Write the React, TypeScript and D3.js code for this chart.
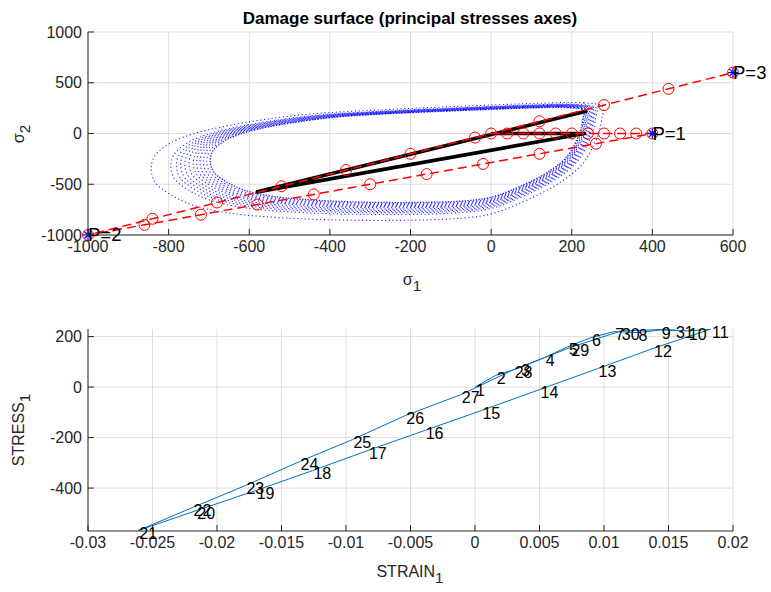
import { useEffect, useRef } from "react";
import * as d3 from "d3";

const W = 771;
const H = 592;
const FONT = "'Liberation Sans', Arial, sans-serif";
const AXIS = "#262626";
const GRID = "#dedede";

// ---- top panel: damage surface in principal stress space ----
const sigmaTicksX = [-1000, -800, -600, -400, -200, 0, 200, 400, 600];
const sigmaTicksY = [-1000, -500, 0, 500, 1000];

// innermost surface contour (sigma1, sigma2)
const surfaceInner: [number, number][] = [
  [229, 225], [190, 255], [100, 252], [0, 238], [-100, 222], [-200, 205],
  [-375, 165], [-470, 120], [-545, 70], [-610, 10], [-660, -70], [-690, -170],
  [-697, -276], [-688, -380], [-655, -480], [-610, -560], [-540, -620],
  [-400, -665], [-200, -680], [-60, -662], [-2, -630], [54, -552],
  [139, -384], [188, -227], [213, -59], [221, 20], [227, 130],
];
// growth of the nested surfaces (about surfaceAnchor)
const surfaceAnchor: [number, number] = [0, 60];
const surfaceScaleX = [1.0, 1.012, 1.024, 1.036, 1.048, 1.06, 1.075, 1.09, 1.105, 1.12, 1.14, 1.21];
const surfaceScaleY = [1.0, 1.014, 1.028, 1.042, 1.056, 1.07, 1.087, 1.104, 1.121, 1.138, 1.16, 1.238];

// prescribed load path (red)
const loadSigma1 = [
  0, 40, 80, 120, 160, 200, 240, 280, 320, 360, 400,
  260, 120, -20, -160, -300, -440, -580, -720, -860, -1000,
  -840, -680, -520, -360, -200, -40, 120, 280, 440, 600,
];
const loadSigma2 = [
  0, 0, 0, 0, 0, 0, 0, 0, 0, 0, 0,
  -100, -200, -300, -400, -500, -600, -700, -800, -900, -1000,
  -840, -680, -520, -360, -200, -40, 120, 280, 440, 600,
];
const loadLabels = [
  { idx: 10, text: "P=1" },
  { idx: 20, text: "P=2" },
  { idx: 30, text: "P=3" },
];

// computed stress path (black)
const responseSigma1 = [0, 232, -580, 238];
const responseSigma2 = [0, 0, -575, 222];

// ---- bottom panel: stress-strain response ----
const strainTicks = [-0.03, -0.025, -0.02, -0.015, -0.01, -0.005, 0, 0.005, 0.01, 0.015, 0.02];
const stressTicks = [-400, -200, 0, 200];

const strain1 = [
  0, 0.0016, 0.0035, 0.0054, 0.0072, 0.009, 0.0108, 0.0126, 0.0144, 0.0165, 0.0183,
  0.0138, 0.0095, 0.005, 0.0005, -0.0039, -0.0083, -0.0126, -0.017, -0.0216, -0.0261,
  -0.0219, -0.0178, -0.0136, -0.0095, -0.0054, -0.0011, 0.003, 0.0074, 0.0113, 0.0155,
];
const stress1 = [
  0, 46, 77, 117, 160, 196, 220, 216, 226, 222, 230,
  153, 73, -10, -93, -172, -251, -331, -410, -489, -568,
  -477, -390, -295, -208, -113, -30, 69, 157, 222, 230,
];

type Sel = d3.Selection<SVGGElement, unknown, null, undefined>;

function grid(
  g: Sel,
  x: d3.ScaleLinear<number, number>,
  y: d3.ScaleLinear<number, number>,
  xt: number[],
  yt: number[],
) {
  const [l, r] = x.range();
  const [b, t] = y.range();
  g.selectAll(".gx").data(xt).enter().append("line")
    .attr("x1", (d) => x(d)).attr("x2", (d) => x(d))
    .attr("y1", t).attr("y2", b)
    .attr("stroke", GRID).attr("stroke-width", 1);
  g.selectAll(".gy").data(yt).enter().append("line")
    .attr("y1", (d) => y(d)).attr("y2", (d) => y(d))
    .attr("x1", l).attr("x2", r)
    .attr("stroke", GRID).attr("stroke-width", 1);
}

function axesOnTop(
  g: Sel,
  x: d3.ScaleLinear<number, number>,
  y: d3.ScaleLinear<number, number>,
  xt: number[],
  yt: number[],
) {
  const [l, r] = x.range();
  const [b, t] = y.range();
  g.append("line").attr("x1", l).attr("x2", l).attr("y1", t).attr("y2", b)
    .attr("stroke", AXIS).attr("stroke-width", 1);
  g.append("line").attr("x1", l).attr("x2", r).attr("y1", b).attr("y2", b)
    .attr("stroke", AXIS).attr("stroke-width", 1);
  xt.forEach((v) => {
    g.append("line").attr("x1", x(v)).attr("x2", x(v)).attr("y1", b).attr("y2", b - 6)
      .attr("stroke", AXIS);
    g.append("text").attr("x", x(v)).attr("y", b + 17).attr("text-anchor", "middle")
      .attr("font-family", FONT).attr("font-size", 16).attr("fill", AXIS).text(String(v));
  });
  yt.forEach((v) => {
    g.append("line").attr("x1", l).attr("x2", l + 6).attr("y1", y(v)).attr("y2", y(v))
      .attr("stroke", AXIS);
    g.append("text").attr("x", l - 6).attr("y", y(v)).attr("dy", "0.35em")
      .attr("text-anchor", "end")
      .attr("font-family", FONT).attr("font-size", 16).attr("fill", AXIS).text(String(v));
  });
}

function subLabel(g: Sel, main: string, sub: string, x: number, y: number, rotate: boolean, size = 16) {
  const t = g.append("text")
    .attr("transform", `translate(${x},${y})${rotate ? " rotate(-90)" : ""}`)
    .attr("text-anchor", "middle")
    .attr("font-family", FONT).attr("font-size", size).attr("fill", AXIS);
  t.append("tspan").text(main);
  t.append("tspan").attr("dy", 6).attr("font-size", size * 0.95).text(sub);
}

export default function App() {
  const svgRef = useRef<SVGSVGElement>(null);

  useEffect(() => {
    if (!svgRef.current) return;
    const svg = d3.select(svgRef.current);
    svg.selectAll("*").remove();

    // ---------- top ----------
    const x1 = d3.scaleLinear().domain([-1000, 600]).range([88, 733]);
    const y1 = d3.scaleLinear().domain([-1000, 1000]).range([235, 32]);
    const top = svg.append("g");
    grid(top, x1, y1, sigmaTicksX, sigmaTicksY);

    const surfLine = d3.line<[number, number]>()
      .x((d) => x1(d[0])).y((d) => y1(d[1]))
      .curve(d3.curveCatmullRomClosed);
    surfaceScaleX.forEach((sx, i) => {
      const sy = surfaceScaleY[i];
      const pts = surfaceInner.map(([a, b]) => [
        surfaceAnchor[0] + (a - surfaceAnchor[0]) * sx,
        surfaceAnchor[1] + (b - surfaceAnchor[1]) * sy,
      ] as [number, number]);
      top.append("path").attr("d", surfLine(pts))
        .attr("fill", "none").attr("stroke", "#0000ff")
        .attr("stroke-width", i === 0 ? 1.3 : 1.1)
        .attr("stroke-dasharray", i === 0 ? "1.4 1.4" : "1.2 2.6")
        .attr("opacity", 0.85);
    });

    const loadPts = loadSigma1.map((v, i) => [v, loadSigma2[i]] as [number, number]);
    const lineXY = d3.line<[number, number]>().x((d) => x1(d[0])).y((d) => y1(d[1]));

    // response path
    const resp = responseSigma1.map((v, i) => [v, responseSigma2[i]] as [number, number]);
    top.append("path").attr("d", lineXY(resp)).attr("fill", "none")
      .attr("stroke", "#000").attr("stroke-width", 3.6).attr("stroke-linejoin", "round");

    top.append("path").attr("d", lineXY(loadPts)).attr("fill", "none")
      .attr("stroke", "#ff0000").attr("stroke-width", 1.5).attr("stroke-dasharray", "9 5");
    top.selectAll(".mk").data(loadPts).enter().append("circle")
      .attr("cx", (d) => x1(d[0])).attr("cy", (d) => y1(d[1])).attr("r", 5.5)
      .attr("fill", "none").attr("stroke", "#ff0000").attr("stroke-width", 1);

    loadLabels.forEach(({ idx, text }) => {
      const cx = x1(loadPts[idx][0]);
      const cy = y1(loadPts[idx][1]);
      const s = 5;
      [[s, 0], [0, s], [s * 0.7, s * 0.7], [s * 0.7, -s * 0.7]].forEach(([dx, dy]) => {
        top.append("line").attr("x1", cx - dx).attr("x2", cx + dx)
          .attr("y1", cy - dy).attr("y2", cy + dy)
          .attr("stroke", "#0000ff").attr("stroke-width", 1.2);
      });
      top.append("text").attr("x", cx).attr("y", cy).attr("dy", "0.35em")
        .attr("font-family", FONT).attr("font-size", 18.5).attr("fill", "#000").text(text);
    });

    axesOnTop(top, x1, y1, sigmaTicksX, sigmaTicksY);
    top.append("text").attr("x", 410).attr("y", 24).attr("text-anchor", "middle")
      .attr("font-family", FONT).attr("font-size", 17).attr("font-weight", "bold")
      .attr("fill", "#000").text("Damage surface (principal stresses axes)");
    subLabel(top, "σ", "1", 412, 285, false);
    subLabel(top, "σ", "2", 24, 134, true);

    // ---------- bottom ----------
    const x2 = d3.scaleLinear().domain([-0.03, 0.02]).range([88, 733]);
    const y2 = d3.scaleLinear().domain([-570, 230]).range([531, 329]);
    const bot = svg.append("g");
    grid(bot, x2, y2, strainTicks, stressTicks);

    svg.append("clipPath").attr("id", "clipB").append("rect")
      .attr("x", 88).attr("y", 329).attr("width", 645).attr("height", 202);
    const ssPts = strain1.map((v, i) => [v, stress1[i]] as [number, number]);
    const line2 = d3.line<[number, number]>().x((d) => x2(d[0])).y((d) => y2(d[1]));
    bot.append("path").attr("d", line2(ssPts)).attr("clip-path", "url(#clipB)")
      .attr("fill", "none").attr("stroke", "#0072bd").attr("stroke-width", 1);

    axesOnTop(bot, x2, y2, strainTicks, stressTicks);

    bot.selectAll(".lbl").data(ssPts).enter().append("text")
      .attr("x", (d) => x2(d[0]) + 1).attr("y", (d) => y2(d[1]) + 3).attr("dy", "0.35em")
      .attr("font-family", FONT).attr("font-size", 16).attr("fill", "#000")
      .text((_, i) => String(i + 1));

    subLabel(bot, "STRAIN", "1", 410, 577, false);
    subLabel(bot, "STRESS", "1", 24, 430, true);
  }, []);

  return (
    <svg
      ref={svgRef}
      width={W}
      height={H}
      viewBox={`0 0 ${W} ${H}`}
      style={{ position: "absolute", left: 0, top: 0, background: "#fff" }}
    />
  );
}
